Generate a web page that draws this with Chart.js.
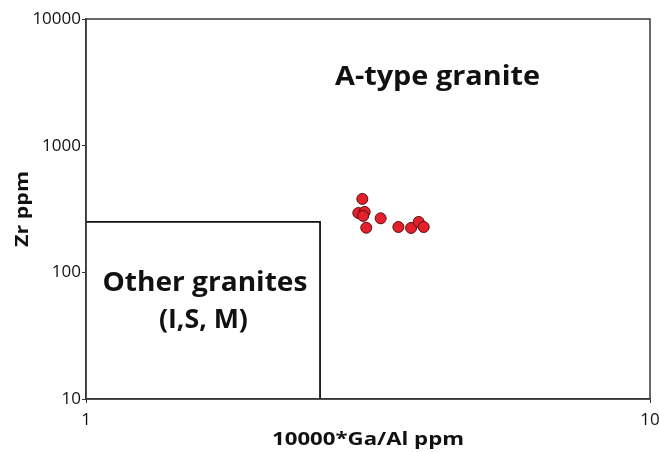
<!DOCTYPE html>
<html>
<head>
<meta charset="utf-8">
<script src="https://cdn.jsdelivr.net/npm/chart.js@4/dist/chart.umd.min.js"></script>
<style>
html,body{margin:0;padding:0;background:#fff;}
#wrap{width:659px;height:452px;position:relative;}
</style>
</head>
<body>
<div id="wrap"><canvas id="c" width="659" height="452"></canvas></div>
<script>
// Data
const gaAl = [3.09, 3.04, 3.12, 3.10, 3.14, 3.33, 3.58, 3.77, 3.89, 3.97];
const zr   = [380, 294, 300, 279, 225, 267, 228, 224, 250, 228];
// Field boundary: "Other granites" box
const boundaryX = [1, 2.6, 2.6];
const boundaryY = [250, 250, 10];
const xTicks = [1, 10];
const yTicks = [10, 100, 1000, 10000];
const fieldLabels = ['A-type granite', 'Other granites', '(I,S, M)'];
const fieldLabelX = [4.20, 1.625, 1.615];
const fieldLabelY = [3033, 71.1, 36.3];   // baseline positions in data units
const xTitle = '10000*Ga/Al ppm';
const yTitle = 'Zr ppm';

const FONT = "'Open Sans', 'Liberation Sans', sans-serif";

const pts = gaAl.map((v, i) => ({x: v, y: zr[i]}));
const boundary = boundaryX.map((v, i) => ({x: v, y: boundaryY[i]}));

// draws text centred at (cx, baseline y), stretched along its direction to a given width
function drawStretched(ctx, text, cx, y, font, width, rot) {
  ctx.save();
  ctx.font = font;
  const w = ctx.measureText(text).width;
  ctx.translate(cx, y);
  if (rot) ctx.rotate(rot);
  ctx.scale(width / w, 1);
  ctx.textAlign = 'center';
  ctx.textBaseline = 'alphabetic';
  ctx.fillText(text, 0, 0);
  ctx.restore();
}

const framePlugin = {
  id: 'frame',
  afterDraw(chart) {
    const {ctx, chartArea: a, scales} = chart;
    ctx.save();
    ctx.strokeStyle = '#3a3a3a';
    ctx.lineWidth = 1.5;
    ctx.strokeRect(a.left, a.top, a.right - a.left, a.bottom - a.top);
    ctx.fillStyle = '#111';
    const widths = [205, 205, 89];
    fieldLabels.forEach((t, i) => {
      drawStretched(ctx, t, scales.x.getPixelForValue(fieldLabelX[i]),
        scales.y.getPixelForValue(fieldLabelY[i]), "bold 26px " + FONT, widths[i], 0);
    });
    // axis titles
    const cx = (a.left + a.right) / 2;
    drawStretched(ctx, xTitle, cx, 445, "bold 18px " + FONT, 192, 0);
    const cy = (a.top + a.bottom) / 2;
    drawStretched(ctx, yTitle, 28, cy, "bold 18px " + FONT, 76, -Math.PI / 2);
    ctx.restore();
  }
};

new Chart(document.getElementById('c'), {
  type: 'scatter',
  data: {
    datasets: [
      {
        label: 'Samples',
        data: pts,
        backgroundColor: '#e3202c',
        borderColor: '#5a1010',
        borderWidth: 1,
        pointRadius: 5.5,
        order: 1
      },
      {
        label: 'Boundary',
        data: boundary,
        showLine: true,
        borderColor: '#111',
        borderWidth: 1.8,
        pointRadius: 0,
        fill: false,
        order: 2
      }
    ]
  },
  options: {
    responsive: false,
    animation: false,
    events: [],
    layout: {padding: {top: 19, right: 9, left: 0, bottom: 0}},
    plugins: {legend: {display: false}, tooltip: {enabled: false}},
    scales: {
      x: {
        type: 'logarithmic',
        min: 1, max: 10,
        afterBuildTicks(s) { s.ticks = xTicks.map(v => ({value: v})); },
        afterFit(s) { s.height = 53; s.paddingRight = 0; s.paddingLeft = 0; },
        ticks: {
          color: '#111',
          font: {family: FONT, size: 17},
          padding: 7,
          maxRotation: 0,
          autoSkip: false,
          callback: v => String(v)
        },
        grid: {display: true, drawOnChartArea: false, drawTicks: true, tickLength: 4, color: '#333'},
        border: {display: true, color: '#333', width: 1.5},
        title: {display: false}
      },
      y: {
        type: 'logarithmic',
        min: 10, max: 10000,
        afterBuildTicks(s) { s.ticks = yTicks.map(v => ({value: v})); },
        afterFit(s) { s.width = 86; s.paddingTop = 0; s.paddingBottom = 0; },
        ticks: {
          color: '#111',
          font: {family: FONT, size: 17},
          padding: 1,
          autoSkip: false,
          callback: v => String(v)
        },
        grid: {display: true, drawOnChartArea: false, drawTicks: true, tickLength: 4, color: '#333'},
        border: {display: true, color: '#333', width: 1.5},
        title: {display: false}
      }
    }
  },
  plugins: [framePlugin]
});
</script>
</body>
</html>
